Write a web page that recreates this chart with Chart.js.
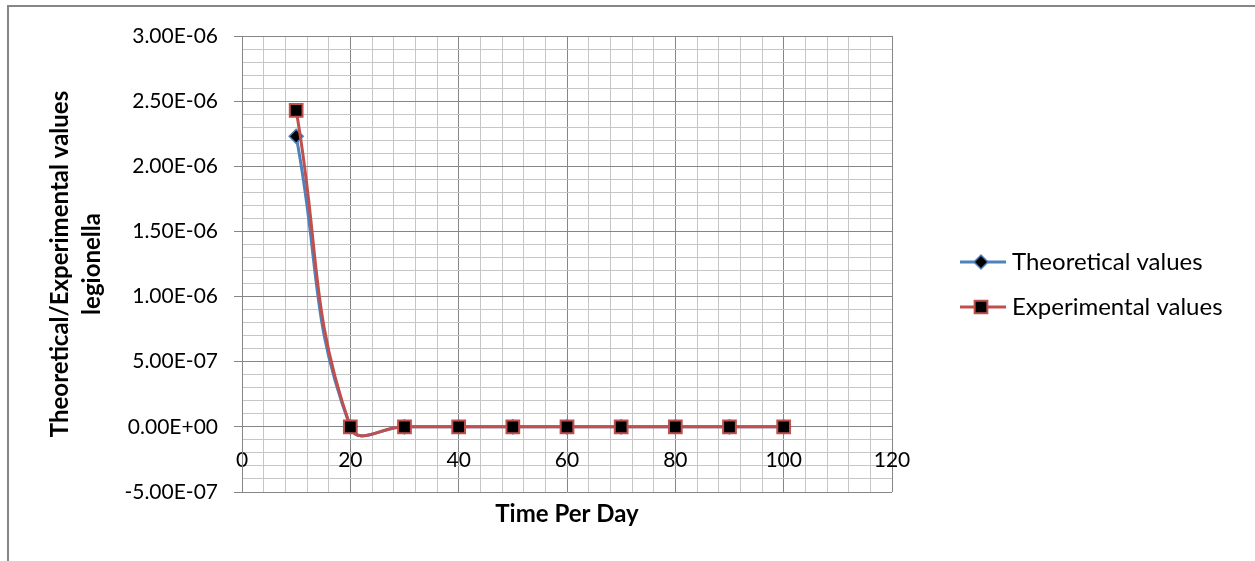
<!DOCTYPE html>
<html>
<head>
<meta charset="utf-8">
<title>Theoretical / Experimental values legionella</title>
<script src="https://cdn.jsdelivr.net/npm/chart.js@4.4.1/dist/chart.umd.min.js"></script>
<style>
    html, body { margin: 0; padding: 0; background: #ffffff; }
    #wrap { width: 1255px; height: 561px; position: relative; }
</style>
</head>
<body>
<div id="wrap"><canvas id="legionellaChart" width="1255" height="561"></canvas></div>
<script>
// chart data
const days = [10, 20, 30, 40, 50, 60, 70, 80, 90, 100];
const theoreticalValues = [2.23e-6, 0, 0, 0, 0, 0, 0, 0, 0, 0];
const experimentalValues = [2.43e-6, 0, 0, 0, 0, 0, 0, 0, 0, 0];
const seriesNames = ['Theoretical values', 'Experimental values'];
const xTitle = 'Time Per Day';
const yTitleLines = ['Theoretical/Experimental values', 'legionella'];

const FONT = 'Lato, "Open Sans", "Liberation Sans", sans-serif';
const MAJOR = '#868686';
const MINOR = '#c6c6c6';
const BLUE = '#4F81BD';
const RED = '#C0504D';

function toPoints(xs, ys) {
    return xs.map((x, i) => ({ x: x, y: ys[i] }));
}

// 3.00E-06 style labels
function excelExp(v) {
    const [m, e] = v.toExponential(2).split('e');
    const n = parseInt(e, 10);
    return m + 'E' + (n < 0 ? '-' : '+') + String(Math.abs(n)).padStart(2, '0');
}

function isMajorY(v) {
    return Math.round(v / 1e-7) % 5 === 0;
}
function isMajorX(v) {
    return Math.round(v) % 20 === 0;
}

// outer frame, axis titles and the legend
const decorPlugin = {
    id: 'decor',
    afterDraw(chart) {
        const ctx = chart.ctx;
        ctx.save();
        ctx.strokeStyle = MAJOR;
        ctx.lineWidth = 2;
        ctx.strokeRect(8, 6, 2000, 2000);

        ctx.fillStyle = '#000000';
        ctx.font = 'bold 24px ' + FONT;
        ctx.textAlign = 'center';
        ctx.textBaseline = 'middle';
        const area = chart.chartArea;
        ctx.fillText(xTitle, (area.left + area.right) / 2, 514);

        ctx.save();
        ctx.translate(76, 264);
        ctx.rotate(-Math.PI / 2);
        ctx.fillText(yTitleLines[0], 0, -16);
        ctx.fillText(yTitleLines[1], 0, 16);
        ctx.restore();

        // legend: line with marker, then the name
        const rows = [262, 307];
        chart.data.datasets.forEach((ds, i) => {
            const y = rows[i];
            ctx.strokeStyle = ds.borderColor;
            ctx.lineWidth = 3;
            ctx.beginPath();
            ctx.moveTo(960, y);
            ctx.lineTo(1006, y);
            ctx.stroke();
            ctx.strokeStyle = ds.pointBorderColor;
            ctx.fillStyle = ds.pointBackgroundColor;
            ctx.lineWidth = ds.pointBorderWidth;
            Chart.helpers.drawPoint(ctx, {
                pointStyle: ds.pointStyle,
                radius: ds.pointRadius,
                borderWidth: ds.pointBorderWidth
            }, 981, y);
            ctx.fillStyle = '#000000';
            ctx.font = '24px ' + FONT;
            ctx.textAlign = 'left';
            ctx.fillText(ds.label, 1012, y);
        });
        ctx.restore();
    }
};

const ctx = document.getElementById('legionellaChart').getContext('2d');
const chart = new Chart(ctx, {
    type: 'scatter',
    data: {
        datasets: [
            {
                label: seriesNames[0],
                data: toPoints(days, theoreticalValues),
                order: 1,
                showLine: true,
                borderColor: BLUE,
                borderWidth: 3,
                tension: 0.45,
                pointStyle: 'rectRot',
                pointRadius: 7,
                pointBorderWidth: 1.5,
                pointBackgroundColor: '#000000',
                pointBorderColor: BLUE
            },
            {
                label: seriesNames[1],
                data: toPoints(days, experimentalValues),
                order: 0,
                showLine: true,
                borderColor: RED,
                borderWidth: 3,
                tension: 0.45,
                pointStyle: 'rect',
                pointRadius: 9,
                pointBorderWidth: 2,
                pointBackgroundColor: '#000000',
                pointBorderColor: RED
            }
        ]
    },
    options: {
        responsive: false,
        animation: false,
        layout: { padding: { top: 36, right: 1255 - 892, bottom: 561 - 492, left: 0 } },
        scales: {
            x: {
                type: 'linear',
                position: { y: 0 },
                min: 0,
                max: 120,
                border: { color: MAJOR, width: 1 },
                grid: {
                    drawTicks: false,
                    color: c => isMajorX(c.tick.value) ? MAJOR : MINOR,
                    lineWidth: 1
                },
                ticks: {
                    stepSize: 4,
                    autoSkip: false,
                    maxRotation: 0,
                    padding: 21,
                    color: '#000000',
                    font: { family: FONT, size: 21 },
                    callback: v => isMajorX(v) ? String(Math.round(v)) : ''
                }
            },
            y: {
                type: 'linear',
                min: -5e-7,
                max: 3e-6,
                afterFit: scale => { scale.width = 242; },
                border: { color: MAJOR, width: 1 },
                grid: {
                    color: c => isMajorY(c.tick.value) ? MAJOR : MINOR,
                    tickColor: c => isMajorY(c.tick.value) ? MAJOR : 'rgba(0,0,0,0)',
                    tickLength: 8,
                    lineWidth: 1
                },
                ticks: {
                    stepSize: 1e-7,
                    autoSkip: false,
                    padding: 16,
                    color: '#000000',
                    font: { family: FONT, size: 21 },
                    callback: v => isMajorY(v) ? excelExp(Math.round(v / 1e-7) * 1e-7) : ''
                }
            }
        },
        plugins: {
            legend: { display: false },
            tooltip: { enabled: false }
        }
    },
    plugins: [decorPlugin]
});
</script>
</body>
</html>
